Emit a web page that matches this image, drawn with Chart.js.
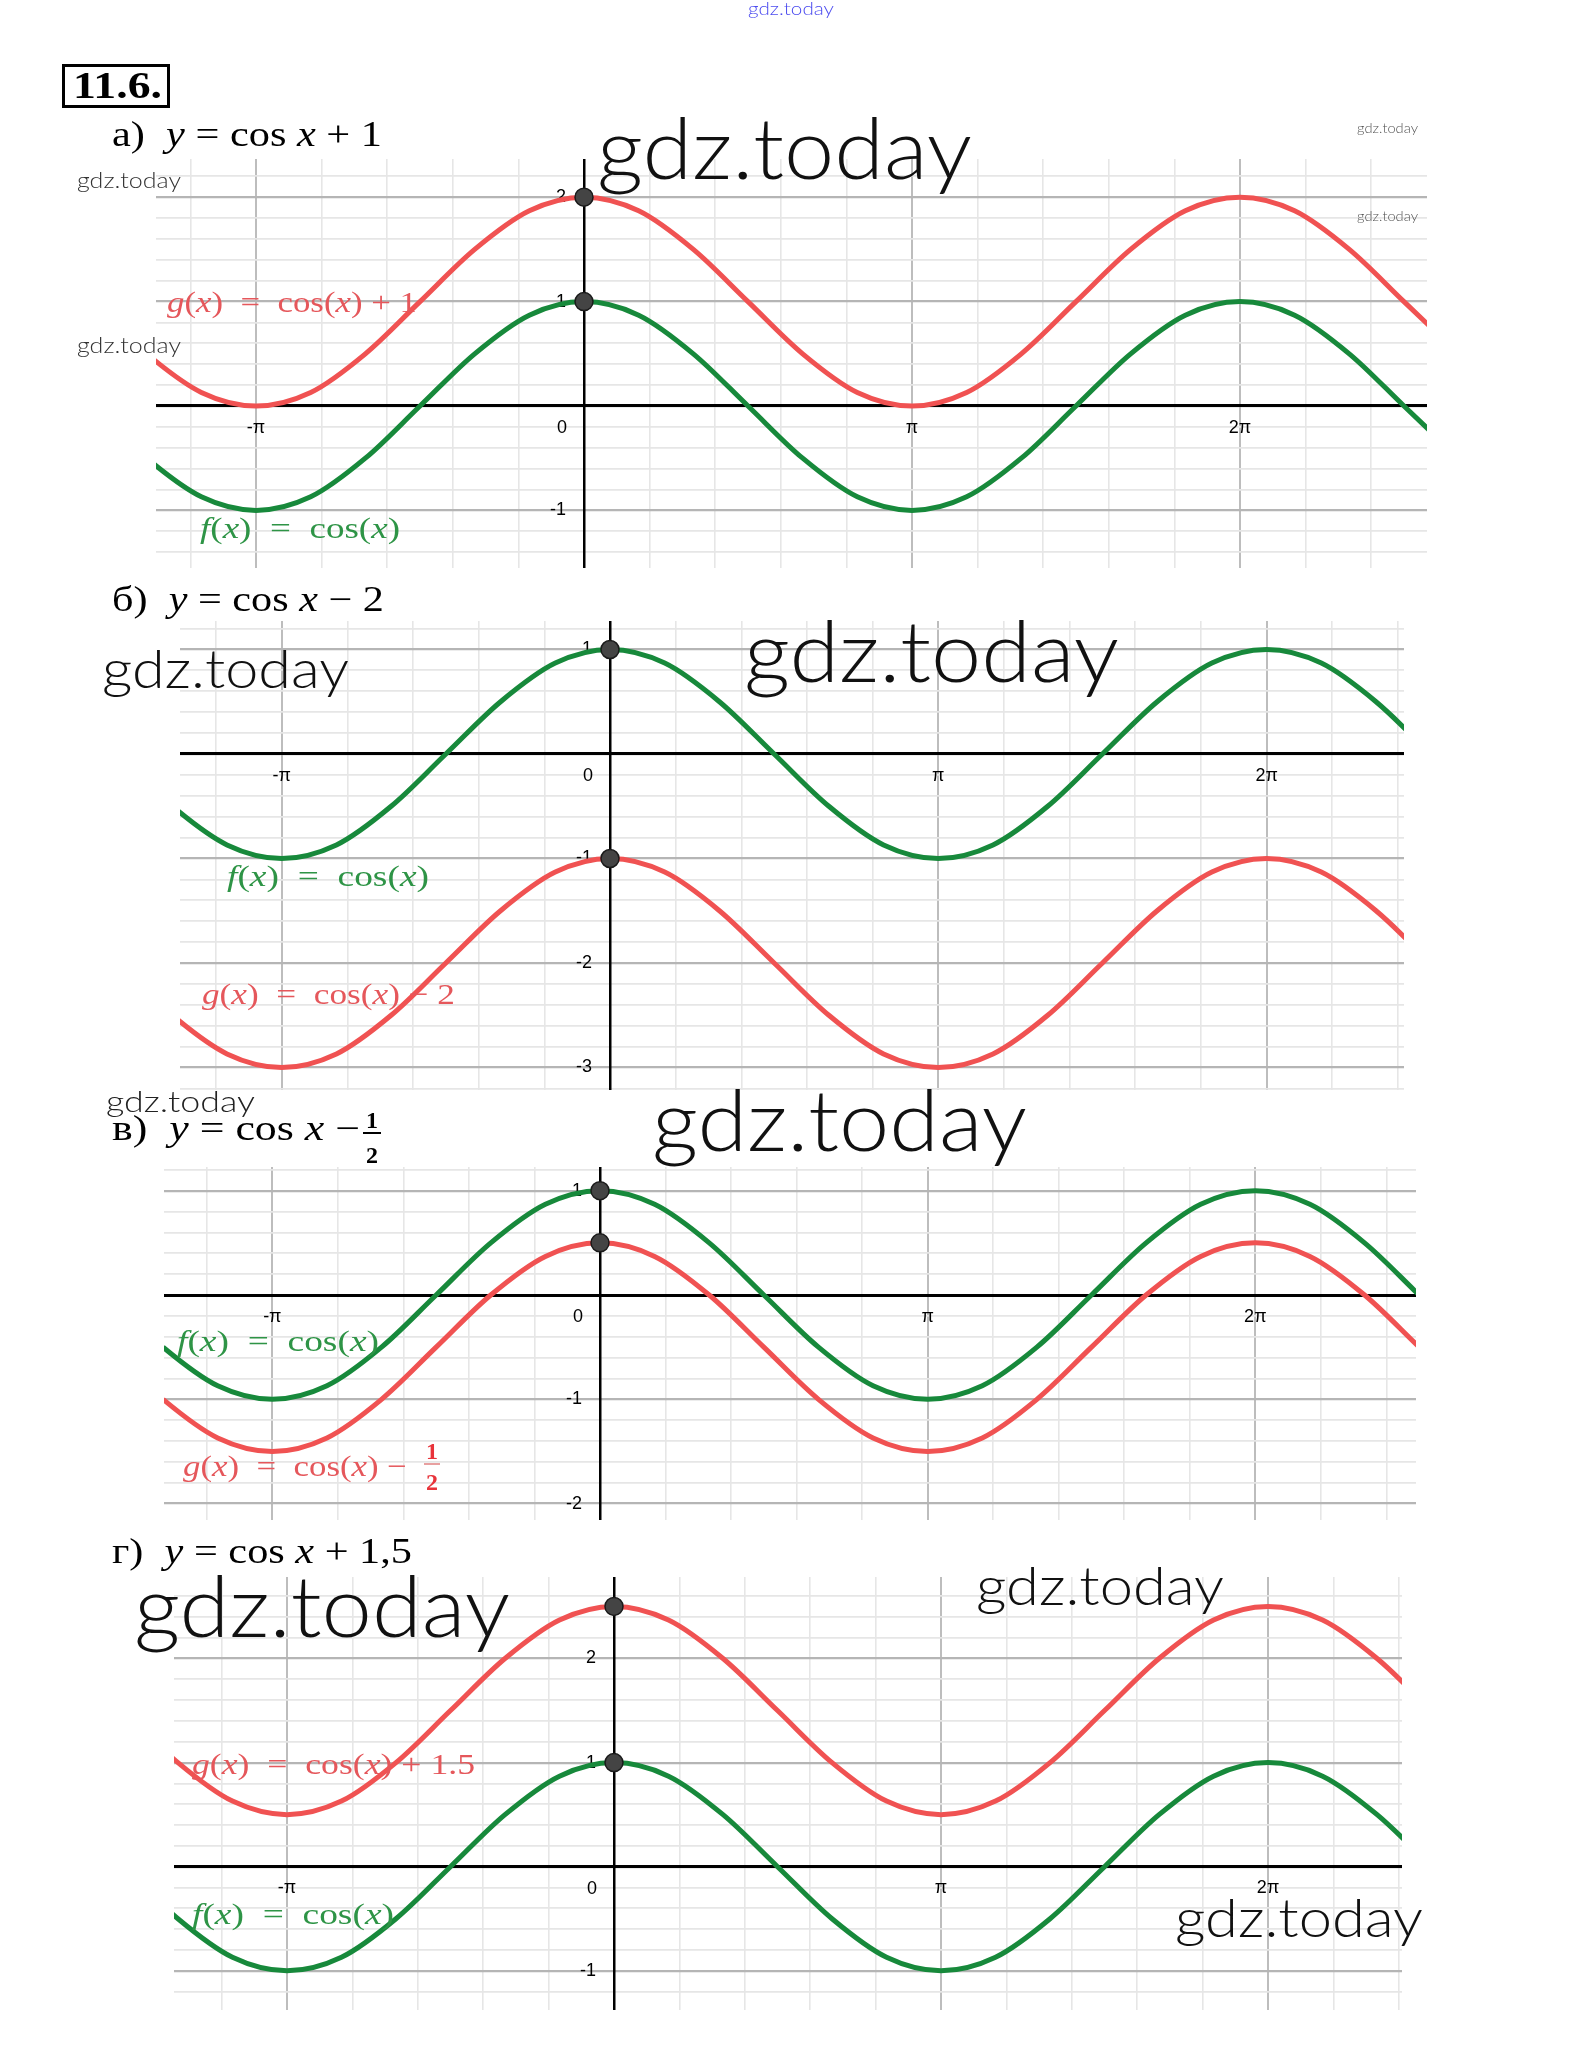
<!DOCTYPE html>
<html>
<head>
<meta charset="utf-8">
<script src="https://cdn.jsdelivr.net/npm/chart.js@4.4.1/dist/chart.umd.min.js"></script>
<style>
  html, body { margin: 0; padding: 0; background: #fff; }
  #page { position: relative; width: 1576px; height: 2067px; overflow: hidden; background: #fff; }
  #page canvas { position: absolute; }
  #page svg { position: absolute; left: 0; top: 0; }
  .wm { font-family: Lato, "DejaVu Sans", sans-serif; font-weight: 300; fill: #111; }
  .tt { font-family: "Liberation Serif", serif; font-size: 35px; fill: #000; white-space: pre; }
  .fl { font-family: "Liberation Serif", serif; font-size: 30px; white-space: pre; }
  .fr { font-family: "Liberation Serif", serif; font-size: 24px; font-weight: bold; }
</style>
</head>
<body>
<div id="page">
  <canvas id="chartA"></canvas>
  <canvas id="chartB"></canvas>
  <canvas id="chartC"></canvas>
  <canvas id="chartD"></canvas>

  <svg width="1576" height="2067">
    <text class="wm" x="748" y="15" font-size="17" textLength="86" lengthAdjust="spacingAndGlyphs" style="fill:#4b4bef">gdz.today</text>

    <rect x="63.5" y="65.5" width="105" height="41" fill="none" stroke="#000" stroke-width="3"/>
    <text x="73" y="98" font-family="Liberation Serif" font-weight="bold" font-size="38" textLength="89" lengthAdjust="spacingAndGlyphs">11.6.</text>

    <!-- а -->
    <text class="tt" x="112" y="146" textLength="270" lengthAdjust="spacingAndGlyphs">а)  <tspan font-style="italic">y</tspan> = cos <tspan font-style="italic">x</tspan> + 1</text>
    <text class="fl" x="167" y="312" fill="#e5575b" textLength="250" lengthAdjust="spacingAndGlyphs"><tspan font-style="italic">g</tspan>(<tspan font-style="italic">x</tspan>)  =  cos(<tspan font-style="italic">x</tspan>) + 1</text>
    <text class="fl" x="200" y="538" fill="#2e9446" textLength="200" lengthAdjust="spacingAndGlyphs"><tspan font-style="italic">f</tspan>(<tspan font-style="italic">x</tspan>)  =  cos(<tspan font-style="italic">x</tspan>)</text>
    <text class="wm" x="597" y="179" font-size="84" textLength="375" lengthAdjust="spacingAndGlyphs">gdz.today</text>
    <text class="wm" x="77" y="188" font-size="22" textLength="104" lengthAdjust="spacingAndGlyphs" style="fill:#333">gdz.today</text>
    <text class="wm" x="77" y="353" font-size="22" textLength="104" lengthAdjust="spacingAndGlyphs" style="fill:#333">gdz.today</text>
    <text class="wm" x="1357" y="133" font-size="14" textLength="61" lengthAdjust="spacingAndGlyphs" style="fill:#555">gdz.today</text>
    <text class="wm" x="1357" y="221" font-size="14" textLength="61" lengthAdjust="spacingAndGlyphs" style="fill:#555">gdz.today</text>

    <!-- б -->
    <text class="tt" x="112" y="611" textLength="272" lengthAdjust="spacingAndGlyphs">б)  <tspan font-style="italic">y</tspan> = cos <tspan font-style="italic">x</tspan> − 2</text>
    <text class="fl" x="227" y="886" fill="#2e9446" textLength="202" lengthAdjust="spacingAndGlyphs"><tspan font-style="italic">f</tspan>(<tspan font-style="italic">x</tspan>)  =  cos(<tspan font-style="italic">x</tspan>)</text>
    <text class="fl" x="202" y="1004" fill="#e5575b" textLength="253" lengthAdjust="spacingAndGlyphs"><tspan font-style="italic">g</tspan>(<tspan font-style="italic">x</tspan>)  =  cos(<tspan font-style="italic">x</tspan>) − 2</text>
    <text class="wm" x="102" y="688" font-size="54" textLength="247" lengthAdjust="spacingAndGlyphs">gdz.today</text>
    <text class="wm" x="744" y="682" font-size="84" textLength="375" lengthAdjust="spacingAndGlyphs">gdz.today</text>

    <!-- в -->
    <text class="wm" x="106" y="1112" font-size="30" textLength="149" lengthAdjust="spacingAndGlyphs" style="fill:#222">gdz.today</text>
    <text class="tt" x="112" y="1140" textLength="248" lengthAdjust="spacingAndGlyphs">в)  <tspan font-style="italic">y</tspan> = cos <tspan font-style="italic">x</tspan> −</text>
    <text class="fr" x="372" y="1128" text-anchor="middle">1</text>
    <line x1="363" y1="1133" x2="381" y2="1133" stroke="#000" stroke-width="2"/>
    <text class="fr" x="372" y="1163" text-anchor="middle">2</text>
    <text class="fl" x="177" y="1351" fill="#2e9446" textLength="202" lengthAdjust="spacingAndGlyphs"><tspan font-style="italic">f</tspan>(<tspan font-style="italic">x</tspan>)  =  cos(<tspan font-style="italic">x</tspan>)</text>
    <text class="fl" x="183" y="1476" fill="#e5575b" textLength="224" lengthAdjust="spacingAndGlyphs"><tspan font-style="italic">g</tspan>(<tspan font-style="italic">x</tspan>)  =  cos(<tspan font-style="italic">x</tspan>) −</text>
    <text class="fr" x="432" y="1459" text-anchor="middle" fill="#e8333a">1</text>
    <line x1="424" y1="1464" x2="440" y2="1464" stroke="#e8a0a0" stroke-width="2"/>
    <text class="fr" x="432" y="1490" text-anchor="middle" fill="#e8333a">2</text>
    <text class="wm" x="652" y="1151" font-size="84" textLength="375" lengthAdjust="spacingAndGlyphs">gdz.today</text>

    <!-- г -->
    <text class="tt" x="112" y="1563" textLength="300" lengthAdjust="spacingAndGlyphs">г)  <tspan font-style="italic">y</tspan> = cos <tspan font-style="italic">x</tspan> + 1,5</text>
    <text class="fl" x="192" y="1774" fill="#e5575b" textLength="283" lengthAdjust="spacingAndGlyphs"><tspan font-style="italic">g</tspan>(<tspan font-style="italic">x</tspan>)  =  cos(<tspan font-style="italic">x</tspan>) + 1.5</text>
    <text class="fl" x="192" y="1924" fill="#2e9446" textLength="202" lengthAdjust="spacingAndGlyphs"><tspan font-style="italic">f</tspan>(<tspan font-style="italic">x</tspan>)  =  cos(<tspan font-style="italic">x</tspan>)</text>
    <text class="wm" x="134" y="1637" font-size="84" textLength="376" lengthAdjust="spacingAndGlyphs">gdz.today</text>
    <text class="wm" x="976" y="1605" font-size="54" textLength="248" lengthAdjust="spacingAndGlyphs">gdz.today</text>
    <text class="wm" x="1175" y="1937" font-size="54" textLength="248" lengthAdjust="spacingAndGlyphs">gdz.today</text>
  </svg>
</div>

<script>
// sample positions along x, counted in steps of pi/6
const xSixths = [-9, -8, -7, -6, -5, -4, -3, -2, -1, 0, 1, 2, 3, 4, 5, 6, 7, 8, 9, 10, 11, 12, 13, 14, 15, 16];

// green curve f(x) = cos(x), read at those positions
const greenVals = [0, -0.5, -0.87, -1, -0.87, -0.5, 0, 0.5, 0.87, 1, 0.87, 0.5, 0, -0.5, -0.87, -1, -0.87, -0.5, 0, 0.5, 0.87, 1, 0.87, 0.5, 0, -0.5];

// red curves g(x) for each exercise
const redA = [1, 0.5, 0.13, 0, 0.13, 0.5, 1, 1.5, 1.87, 2, 1.87, 1.5, 1, 0.5, 0.13, 0, 0.13, 0.5, 1, 1.5, 1.87, 2, 1.87, 1.5, 1, 0.5];
const redB = [-2, -2.5, -2.87, -3, -2.87, -2.5, -2, -1.5, -1.13, -1, -1.13, -1.5, -2, -2.5, -2.87, -3, -2.87, -2.5, -2, -1.5, -1.13, -1, -1.13, -1.5, -2, -2.5];
const redC = [-0.5, -1, -1.37, -1.5, -1.37, -1, -0.5, 0, 0.37, 0.5, 0.37, 0, -0.5, -1, -1.37, -1.5, -1.37, -1, -0.5, 0, 0.37, 0.5, 0.37, 0, -0.5, -1];
const redD = [1.5, 1, 0.63, 0.5, 0.63, 1, 1.5, 2, 2.37, 2.5, 2.37, 2, 1.5, 1, 0.63, 0.5, 0.63, 1, 1.5, 2, 2.37, 2.5, 2.37, 2, 1.5, 1];

// marked points on the y axis (x = 0)
const dotsA = [2, 1];
const dotsB = [1, -1];
const dotsC = [1, 0.5];
const dotsD = [2.5, 1];

// x tick labels, at multiples of pi
const piLabelMultiples = [-1, 1, 2];
const piLabelText = ['-π', 'π', '2π'];

const RED = '#f05252';
const GREEN = '#17893b';
const TICK_FONT = { family: '"Liberation Sans", Arial, sans-serif', size: 18 };

// where each plot sits on the page (origin pixel and px per unit)
const panels = [
  { id: 'chartA', left: 156, top: 159, w: 1271, h: 409, ox: 584, oy: 406, unit: 104.4, red: redA, dots: dotsA },
  { id: 'chartB', left: 180, top: 621, w: 1224, h: 469, ox: 610, oy: 754, unit: 104.5, red: redB, dots: dotsB },
  { id: 'chartC', left: 164, top: 1167, w: 1252, h: 353, ox: 600, oy: 1295, unit: 104.3, red: redC, dots: dotsC },
  { id: 'chartD', left: 174, top: 1577, w: 1228, h: 433, ox: 614, oy: 1866.7, unit: 104.1, red: redD, dots: dotsD }
];

function toPoints(vals) {
  return xSixths.map((k, i) => ({ x: k * Math.PI / 6, y: vals[i] }));
}

// grid ticks every step; on the y axis one extra unlabeled tick past each
// end keeps Chart.js from reserving room for edge labels
function stepTicks(scale, step, extra) {
  const ticks = [];
  const k0 = Math.ceil(scale.min / step - 1e-9) - extra;
  const k1 = Math.floor(scale.max / step + 1e-9) + extra;
  for (let k = k0; k <= k1; k++) ticks.push({ value: k * step });
  scale.ticks = ticks;
}

function isMajor(v, step) {
  const k = Math.round(v / step);
  return k % 5 === 0;
}

function inRange(scale, v) {
  return v >= scale.min - 1e-9 && v <= scale.max + 1e-9;
}

// the "0" at the origin sits below-left of the crossing
const originLabel = {
  id: 'originLabel',
  beforeDatasetsDraw(chart) {
    const { ctx, scales: { x, y } } = chart;
    ctx.save();
    ctx.font = TICK_FONT.size + 'px ' + TICK_FONT.family;
    ctx.fillStyle = '#000';
    ctx.textAlign = 'right';
    ctx.textBaseline = 'middle';
    ctx.fillText('0', x.getPixelForValue(0) - 17, y.getPixelForValue(0) + 22);
    ctx.restore();
  }
};

function drawPanel(p) {
  const canvas = document.getElementById(p.id);
  canvas.width = p.w;
  canvas.height = p.h;
  canvas.style.left = p.left + 'px';
  canvas.style.top = p.top + 'px';

  const xmin = (p.left - p.ox) / p.unit;
  const xmax = (p.left + p.w - p.ox) / p.unit;
  const ymax = (p.oy - p.top) / p.unit;
  const ymin = (p.oy - p.top - p.h) / p.unit;
  const xStep = Math.PI / 5;
  const yStep = 0.2;

  new Chart(canvas, {
    type: 'line',
    data: {
      datasets: [
        {
          data: p.dots.map(v => ({ x: 0, y: v })),
          showLine: false,
          pointRadius: 9,
          pointBackgroundColor: '#444',
          pointBorderColor: '#1a1a1a',
          pointBorderWidth: 1.5
        },
        {
          data: toPoints(p.red),
          borderColor: RED,
          borderWidth: 5,
          pointRadius: 0,
          cubicInterpolationMode: 'monotone'
        },
        {
          data: toPoints(greenVals),
          borderColor: GREEN,
          borderWidth: 5,
          pointRadius: 0,
          cubicInterpolationMode: 'monotone'
        }
      ]
    },
    options: {
      responsive: false,
      animation: false,
      devicePixelRatio: 1,
      events: [],
      layout: { padding: 0, autoPadding: false },
      elements: { line: { capBezierPoints: false } },
      plugins: { legend: { display: false }, tooltip: { enabled: false } },
      scales: {
        x: {
          type: 'linear',
          min: xmin,
          max: xmax,
          position: { y: 0 },
          afterBuildTicks: s => stepTicks(s, xStep, 0),
          grid: {
            drawTicks: true,
            tickLength: 11,
            tickColor: 'rgba(0,0,0,0)',
            color: c => isMajor(c.tick.value, xStep) ? '#bdbdbd' : '#e6e6e6',
            lineWidth: c => isMajor(c.tick.value, xStep) ? 2 : 1.6
          },
          border: { display: true, color: '#000', width: 3 },
          ticks: {
            autoSkip: false,
            maxRotation: 0,
            padding: 0,
            color: '#000',
            font: TICK_FONT,
            callback: function (v) {
              const i = piLabelMultiples.findIndex(m => Math.abs(m - v / Math.PI) < 1e-6);
              return i >= 0 ? piLabelText[i] : [];
            }
          }
        },
        y: {
          type: 'linear',
          min: ymin,
          max: ymax,
          position: { x: 0 },
          afterBuildTicks: s => stepTicks(s, yStep, 1),
          grid: {
            drawTicks: false,
            color: c => isMajor(c.tick.value, yStep) ? '#b5b5b5' : '#e6e6e6',
            lineWidth: c => isMajor(c.tick.value, yStep) ? 2.2 : 1.8
          },
          border: { display: true, color: '#000', width: 2.5 },
          ticks: {
            autoSkip: false,
            padding: 0,
            color: '#000',
            font: TICK_FONT,
            // labels are right-aligned on the axis; the em space keeps them clear of it
            callback: function (v) {
              if (!inRange(this, v)) return [];
              const r = Math.round(v);
              return (Math.abs(v - r) < 1e-6 && r !== 0) ? String(r) + '\u2003' : [];
            }
          }
        }
      }
    },
    plugins: [originLabel]
  });
}

panels.forEach(drawPanel);
</script>
</body>
</html>
